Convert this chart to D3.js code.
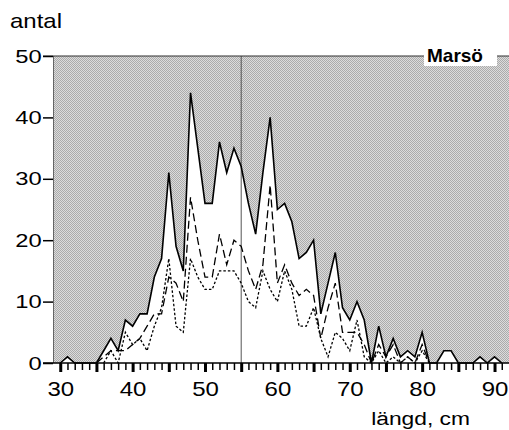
<!DOCTYPE html>
<html>
<head>
<meta charset="utf-8">
<script src="https://cdn.jsdelivr.net/npm/d3@7"></script>
<style>
  body { margin: 0; background: #fff; }
  text { font-family: Arial, "Liberation Sans", sans-serif; fill: #000; }
</style>
</head>
<body>
<div id="chart"></div>
<script>
// length classes (cm)
const lengths = d3.range( 30, 92 );

// total catch per length class
const total = [
  0, 1, 0, 0, 0, 0, 2, 4, 2, 7,
  6, 8, 8, 14, 17, 31, 19, 15, 44, 35,
  26, 26, 36, 31, 35, 32, 26, 21, 31, 40,
  25, 26, 23, 17, 18, 20, 8, 13, 18, 9,
  7, 10, 7, 0, 6, 1, 4, 1, 2, 1,
  5, 0, 0, 2, 2, 0, 0, 0, 1, 0,
  1, 0
];

// long dashed series
const dashed = [
  null, null, null, null, null, 0, 1, 2, 2, 2,
  3, 4, 6, 8, 8, 14, 13, 10, 27, 20,
  14, 14, 21, 16, 20, 19, 15, 12, 16, 29,
  13, 16, 13, 11, 12, 11, 4, 9, 13, 5,
  5, 5, 3, 0, 3, 1, 3, 0, 1, 0,
  3, 0, null, null, null, null, null, null, null, null,
  null, null
];

// short dashed series
const dotted = [
  null, null, null, null, null, null, 0, 2, 0, 5,
  3, 4, 2, 6, 9, 17, 6, 5, 17, 14,
  12, 12, 15, 15, 15, 13, 10, 9, 15, 12,
  10, 15, 12, 6, 6, 9, 4, 1, 5, 4,
  2, 7, 1, 0, 2, 0, 1, 0, 1, 0,
  2, 0, null, null, null, null, null, null, null, null,
  null, null
];

const xTicks = [30, 40, 50, 60, 70, 80, 90];
const yTicks = [0, 10, 20, 30, 40, 50];

const W = 509, H = 430;
const svg = d3.select( '#chart' ).append( 'svg' )
    .attr( 'width', W )
    .attr( 'height', H );

const x = d3.scaleLinear().domain( [29, 92] ).range( [53, 509] );
const y = d3.scaleLinear().domain( [0, 50] ).range( [363, 56] );

// fine gray dither used as background
const defs = svg.append( 'defs' );
const pat = defs.append( 'pattern' )
    .attr( 'id', 'dither' )
    .attr( 'width', 2 ).attr( 'height', 2 )
    .attr( 'patternUnits', 'userSpaceOnUse' );
pat.append( 'rect' ).attr( 'width', 2 ).attr( 'height', 2 ).attr( 'fill', '#dcdcdc' );
pat.append( 'rect' ).attr( 'x', 0 ).attr( 'y', 0 ).attr( 'width', 1 ).attr( 'height', 1 ).attr( 'fill', '#ababab' );
pat.append( 'rect' ).attr( 'x', 1 ).attr( 'y', 1 ).attr( 'width', 1 ).attr( 'height', 1 ).attr( 'fill', '#ababab' );

svg.append( 'rect' )
    .attr( 'x', x( 29 ) ).attr( 'y', y( 50 ) )
    .attr( 'width', x( 92 ) - x( 29 ) ).attr( 'height', y( 0 ) - y( 50 ) )
    .attr( 'fill', 'url(#dither)' );

const pts = lengths.map( ( l, i ) => ( { l: l, t: total[i], d: dashed[i], s: dotted[i] } ) );

// white area under the total line
svg.append( 'path' )
    .datum( pts )
    .attr( 'fill', '#fff' )
    .attr( 'd', d3.area().x( d => x( d.l ) ).y0( y( 0 ) ).y1( d => y( d.t ) ) );

// reference line at 55 cm
svg.append( 'line' )
    .attr( 'x1', x( 55 ) ).attr( 'x2', x( 55 ) )
    .attr( 'y1', y( 50 ) ).attr( 'y2', y( 0 ) )
    .attr( 'stroke', '#555' ).attr( 'stroke-width', 1 );

svg.append( 'path' )
    .datum( pts )
    .attr( 'fill', 'none' ).attr( 'stroke', '#000' )
    .attr( 'stroke-width', 1.3 ).attr( 'stroke-dasharray', '2.5,2' )
    .attr( 'd', d3.line().defined( d => d.s !== null ).x( d => x( d.l ) ).y( d => y( d.s ) ) );

svg.append( 'path' )
    .datum( pts )
    .attr( 'fill', 'none' ).attr( 'stroke', '#000' )
    .attr( 'stroke-width', 1.3 ).attr( 'stroke-dasharray', '8,4' )
    .attr( 'd', d3.line().defined( d => d.d !== null ).x( d => x( d.l ) ).y( d => y( d.d ) ) );

svg.append( 'path' )
    .datum( pts )
    .attr( 'fill', 'none' ).attr( 'stroke', '#000' )
    .attr( 'stroke-width', 1.6 )
    .attr( 'stroke-linejoin', 'miter' )
    .attr( 'd', d3.line().x( d => x( d.l ) ).y( d => y( d.t ) ) );

// left edge of the plot
svg.append( 'line' )
    .attr( 'x1', x( 29 ) + 0.5 ).attr( 'x2', x( 29 ) + 0.5 )
    .attr( 'y1', y( 50 ) ).attr( 'y2', y( 0 ) )
    .attr( 'stroke', '#666' );

// top border
svg.append( 'line' )
    .attr( 'x1', 43 ).attr( 'x2', W )
    .attr( 'y1', y( 50 ) ).attr( 'y2', y( 50 ) )
    .attr( 'stroke', '#333' ).attr( 'stroke-width', 1.2 );

// X axis: minor ticks every cm, bold ticks every 5, labels every 10
const gx = svg.append( 'g' ).attr( 'transform', 'translate( 0, ' + y( 0 ) + ' )' );
gx.append( 'line' )
    .attr( 'x1', 43 ).attr( 'x2', W )
    .attr( 'stroke', '#000' ).attr( 'stroke-width', 1.5 );
gx.append( 'g' )
    .call( d3.axisBottom( x ).tickValues( lengths.filter( l => l % 5 !== 0 ) ).tickSize( 7 ).tickFormat( '' ) )
    .call( g => g.select( '.domain' ).remove() )
    .selectAll( 'line' ).attr( 'stroke-width', 1.5 );
gx.append( 'g' )
    .call( d3.axisBottom( x ).tickValues( lengths.filter( l => l % 5 === 0 ) ).tickSize( 9 ).tickFormat( '' ) )
    .call( g => g.select( '.domain' ).remove() )
    .selectAll( 'line' ).attr( 'stroke-width', 3 );
gx.append( 'g' )
    .call( d3.axisBottom( x ).tickValues( xTicks ).tickSize( 0 ).tickPadding( 19 ) )
    .call( g => g.select( '.domain' ).remove() )
    .selectAll( 'text' )
      .attr( 'font-size', 20 )
      .attr( 'transform', 'scale( 1.2, 1 )' );

// Y axis
const gy = svg.append( 'g' ).attr( 'transform', 'translate( ' + x( 29 ) + ', 0 )' );
gy.call( d3.axisLeft( y ).tickValues( yTicks ).tickSize( 10 ) )
    .call( g => g.select( '.domain' ).remove() )
    .call( g => g.selectAll( 'line' ).attr( 'stroke-width', 1.5 ) )
    .selectAll( 'text' )
      .attr( 'font-size', 19 )
      .attr( 'x', -9 )
      .attr( 'transform', 'scale( 1.25, 1 )' );

svg.append( 'text' )
    .attr( 'y', 28 )
    .attr( 'font-size', 20 )
    .attr( 'transform', 'scale( 1.2, 1 )' )
    .attr( 'x', 10 / 1.2 )
    .text( 'antal' );

svg.append( 'text' )
    .attr( 'x', 470 / 1.2 ).attr( 'y', 425 )
    .attr( 'font-size', 19 )
    .attr( 'text-anchor', 'end' )
    .attr( 'transform', 'scale( 1.2, 1 )' )
    .text( 'längd, cm' );

// site label
svg.append( 'rect' )
    .attr( 'x', 424 ).attr( 'y', 47 )
    .attr( 'width', 73 ).attr( 'height', 19 )
    .attr( 'fill', '#fff' );
svg.append( 'text' )
    .attr( 'x', 427 ).attr( 'y', 62 )
    .attr( 'font-size', 19 )
    .attr( 'font-weight', 'bold' )
    .text( 'Marsö' );
</script>
</body>
</html>
